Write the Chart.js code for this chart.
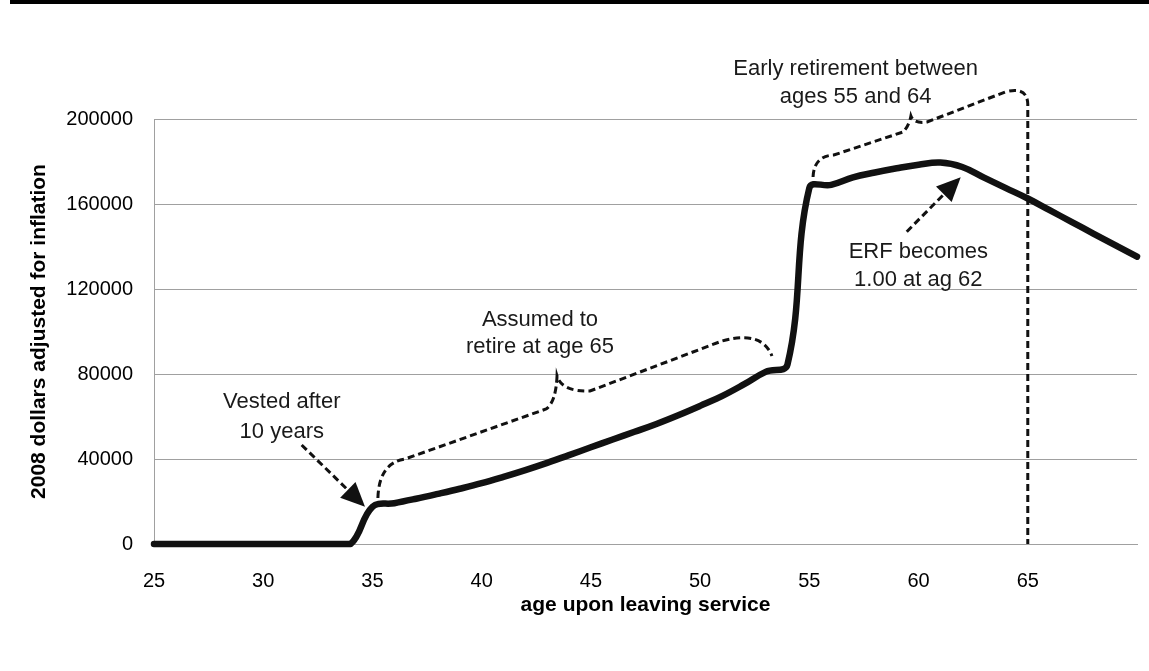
<!DOCTYPE html>
<html>
<head>
<meta charset="utf-8">
<script src="https://cdn.jsdelivr.net/npm/chart.js@4.4.1/dist/chart.umd.min.js"></script>
<style>
  html, body { margin: 0; padding: 0; background: #fff; }
  #wrap { width: 1149px; height: 671px; }
</style>
</head>
<body>
<div id="wrap"><canvas id="pensionChart" width="1149" height="671"></canvas></div>
<script>
// Pension value by age upon leaving service
const ages = [25, 26, 27, 28, 29, 30, 31, 32, 33, 34, 35, 36, 37, 38, 39, 40, 41, 42, 43, 44, 45, 46, 47,
  48, 49, 50, 51, 52, 53, 54, 55, 56, 57, 58, 59, 60, 61, 62, 63, 64, 65, 66, 67, 68, 69, 70];
const pensionValues = [0, 0, 0, 0, 0, 0, 0, 0, 0, 0, 17500, 19200, 21300, 23600, 26000, 28600, 31600,
  34800, 38200, 41800, 45500, 49200, 52800, 56500, 60600, 65000, 69600, 75100, 81000, 84500, 167500,
  169000, 172500, 174800, 176800, 178500, 179500, 177400, 172400, 167500, 162600, 157100, 151600,
  146100, 140600, 135200];
const xTickLabels = [25, 30, 35, 40, 45, 50, 55, 60, 65];
const yTickValues = [0, 40000, 80000, 120000, 160000, 200000];

const yTitle = "2008 dollars adjusted for inflation";
const xTitle = "age upon leaving service";

// annotation texts, placed in data units (age, dollars)
const notes = [
  { text: "Vested after", at: [30.85, 66970] },
  { text: "10 years", at: [30.85, 52850] },
  { text: "Assumed to", at: [42.67, 105400] },
  { text: "retire at age 65", at: [42.67, 92850] },
  { text: "Early retirement between", at: [57.12, 223400] },
  { text: "ages 55 and 64", at: [57.12, 210500] },
  { text: "ERF becomes", at: [59.99, 137560] },
  { text: "1.00 at ag 62", at: [59.99, 124240] },
];

// dashed arrows: from -> tip
const arrows = [
  { from: [31.76, 46600], to: [34.66, 17550] },
  { from: [59.46, 146970], to: [61.93, 172570] },
];

// dashed braces as path commands in data units
const braces = [
  [
    ["M", 35.25, 21650],
    ["Q", 35.30, 38120, 36.49, 40000],
    ["L", 42.95, 63530],
    ["Q", 43.40, 66830, 43.45, 79060],
    ["Q", 43.68, 71530, 44.96, 72000],
    ["L", 51.00, 95530],
    ["Q", 52.83, 100710, 53.29, 88470],
  ],
  [
    ["M", 55.17, 172710],
    ["Q", 55.21, 182590, 56.12, 183060],
    ["L", 59.29, 193890],
    ["Q", 59.56, 196710, 59.65, 201420],
    ["Q", 59.79, 197650, 60.39, 198590],
    ["L", 63.96, 212710],
    ["Q", 64.97, 215530, 65.0, 207060],
    ["L", 65.0, 0],
  ],
];

const annotationPlugin = {
  id: "annotations",
  beforeDraw(chart) {
    const ctx = chart.ctx;
    ctx.save();
    ctx.fillStyle = "#000";
    ctx.fillRect(10, 0, chart.width - 10, 4);
    ctx.restore();
  },
  afterDatasetsDraw(chart) {
    const { ctx, scales } = chart;
    const px = (a) => scales.x.getPixelForValue(a);
    const py = (v) => scales.y.getPixelForValue(v);
    ctx.save();
    ctx.strokeStyle = "#111";
    ctx.fillStyle = "#111";
    ctx.lineWidth = 3;
    ctx.setLineDash([7, 4]);

    braces.forEach((cmds) => {
      ctx.beginPath();
      cmds.forEach((c) => {
        if (c[0] === "M") ctx.moveTo(px(c[1]), py(c[2]));
        else if (c[0] === "L") ctx.lineTo(px(c[1]), py(c[2]));
        else ctx.quadraticCurveTo(px(c[1]), py(c[2]), px(c[3]), py(c[4]));
      });
      ctx.stroke();
    });

    arrows.forEach((ar) => {
      const x0 = px(ar.from[0]), y0 = py(ar.from[1]);
      const x1 = px(ar.to[0]), y1 = py(ar.to[1]);
      const ang = Math.atan2(y1 - y0, x1 - x0);
      const head = 24, half = 11;
      const bx = x1 - head * Math.cos(ang), by = y1 - head * Math.sin(ang);
      ctx.setLineDash([7, 4]);
      ctx.beginPath();
      ctx.moveTo(x0, y0);
      ctx.lineTo(bx, by);
      ctx.stroke();
      ctx.setLineDash([]);
      ctx.beginPath();
      ctx.moveTo(x1, y1);
      ctx.lineTo(bx + half * Math.sin(ang), by - half * Math.cos(ang));
      ctx.lineTo(bx - half * Math.sin(ang), by + half * Math.cos(ang));
      ctx.closePath();
      ctx.fill();
    });

    ctx.setLineDash([]);
    ctx.font = '22px "Liberation Sans", Arial, sans-serif';
    ctx.textAlign = "center";
    ctx.textBaseline = "middle";
    ctx.fillStyle = "#1a1a1a";
    notes.forEach((n) => ctx.fillText(n.text, px(n.at[0]), py(n.at[1])));
    ctx.restore();
  },
};

const ctxPension = document.getElementById("pensionChart").getContext("2d");
const pensionChart = new Chart(ctxPension, {
  type: "line",
  data: {
    datasets: [
      {
        label: "Pension value",
        data: ages.map((a, i) => ({ x: a, y: pensionValues[i] })),
        borderColor: "#111",
        borderWidth: 6.5,
        borderCapStyle: "round",
        borderJoinStyle: "round",
        pointRadius: 0,
        tension: 0.4,
        fill: false,
        clip: false,
      },
    ],
  },
  options: {
    responsive: false,
    animation: false,
    devicePixelRatio: 1,
    layout: { padding: { left: 0, right: 0, top: 119, bottom: 0 } },
    scales: {
      x: {
        type: "linear",
        min: 25,
        max: 70,
        afterFit: (scale) => { scale.height = 127; scale.paddingRight = 12; },
        grid: { display: false },
        border: { display: true, color: "#a0a0a0", width: 1 },
        ticks: {
          stepSize: 5,
          autoSkip: false,
          maxRotation: 0,
          padding: 17,
          color: "#000",
          font: { family: '"Liberation Sans", Arial, sans-serif', size: 20 },
          callback: (v) => (xTickLabels.includes(v) ? String(v) : ""),
        },
        title: {
          display: true,
          text: xTitle,
          color: "#000",
          font: { family: '"Liberation Sans", Arial, sans-serif', size: 21, weight: "bold" },
          padding: { top: 0, bottom: 53 },
        },
      },
      y: {
        min: 0,
        max: 200000,
        afterFit: (scale) => { scale.width = 154; },
        grid: { color: "#a0a0a0", lineWidth: 1, drawTicks: false },
        border: { display: true, color: "#a0a0a0", width: 1 },
        afterBuildTicks: (scale) => { scale.ticks = yTickValues.map((v) => ({ value: v })); },
        ticks: {
          padding: 21,
          color: "#000",
          font: { family: '"Liberation Sans", Arial, sans-serif', size: 20 },
          callback: (v) => String(v),
        },
        title: {
          display: true,
          text: yTitle,
          color: "#000",
          font: { family: '"Liberation Sans", Arial, sans-serif', size: 21, weight: "bold" },
          padding: { top: 27, bottom: 0 },
        },
      },
    },
    plugins: {
      legend: { display: false },
      tooltip: { enabled: false },
    },
  },
  plugins: [annotationPlugin],
});
</script>
</body>
</html>
